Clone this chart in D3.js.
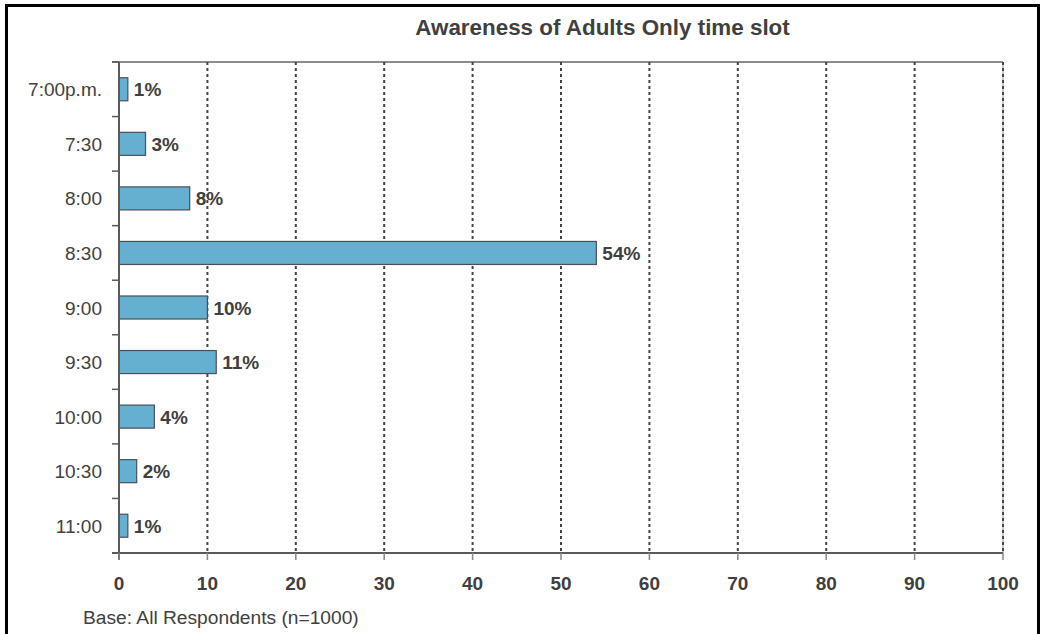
<!DOCTYPE html>
<html>
<head>
<meta charset="utf-8">
<script src="https://cdn.jsdelivr.net/npm/d3@7"></script>
<style>
  html, body { margin: 0; padding: 0; background: #fff; }
  svg { display: block; font-family: Arial, "Liberation Sans", sans-serif; }
</style>
</head>
<body>
<svg id="chart" width="1042" height="634"></svg>
<script>
const categories = ["7:00p.m.", "7:30", "8:00", "8:30", "9:00", "9:30", "10:00", "10:30", "11:00"];
const values = [1, 3, 8, 54, 10, 11, 4, 2, 1];
const xTicks = [0, 10, 20, 30, 40, 50, 60, 70, 80, 90, 100];
const chartTitle = "Awareness of Adults Only time slot";
const footnote = "Base: All Respondents (n=1000)";

(function () {
const svg = d3.select("#chart");
const pL = 119, pR = 1003, pT = 62, pB = 553;
const textColor = "#404040";
const axisColor = "#5a5a5a";

// outer frame
svg.append("rect")
  .attr("x", 6.5).attr("y", 5.5)
  .attr("width", 1032).attr("height", 700)
  .attr("fill", "none").attr("stroke", "#000").attr("stroke-width", 3);

const x = d3.scaleLinear().domain([0, 100]).range([pL, pR]);
const pad = 0.578;
const y = d3.scaleBand().domain(categories).range([pT, pB])
  .paddingInner(pad).paddingOuter(pad / 2);
const step = y.step();
const bandStart = c => y(c) - step * pad / 2;

// title
svg.append("text")
  .attr("x", 602.5).attr("y", 35)
  .attr("text-anchor", "middle")
  .attr("font-size", 22.4).attr("font-weight", "bold")
  .attr("fill", textColor)
  .text(chartTitle);

// top border line
svg.append("line")
  .attr("x1", pL - 7).attr("x2", pR).attr("y1", pT).attr("y2", pT)
  .attr("stroke", "#666").attr("stroke-width", 1.5);

// right border (solid light + dashed)
svg.append("line")
  .attr("x1", x(100)).attr("x2", x(100)).attr("y1", pT).attr("y2", pB)
  .attr("stroke", "#c8c8c8").attr("stroke-width", 2);

// grid lines
svg.append("g").selectAll("line")
  .data(xTicks.filter(d => d > 0))
  .join("line")
  .attr("x1", d => x(d)).attr("x2", d => x(d))
  .attr("y1", pT).attr("y2", pB)
  .attr("stroke", "#444").attr("stroke-width", 2)
  .attr("stroke-dasharray", "3,3");

// bars
const rows = categories.map((c, i) => ({ c, v: values[i] }));
svg.append("g").selectAll("rect")
  .data(rows)
  .join("rect")
  .attr("x", x(0))
  .attr("y", d => y(d.c))
  .attr("width", d => x(d.v) - x(0))
  .attr("height", y.bandwidth())
  .attr("fill", "#65b0d1")
  .attr("stroke", "#4a4f55").attr("stroke-width", 1.2);

// value labels
svg.append("g").selectAll("text")
  .data(rows)
  .join("text")
  .attr("x", d => x(d.v) + 6)
  .attr("y", d => y(d.c) + y.bandwidth() / 2 + 7)
  .attr("font-size", 19).attr("font-weight", "bold")
  .attr("fill", textColor)
  .text(d => d.v + "%");

// y axis line and ticks at band boundaries
svg.append("line")
  .attr("x1", pL).attr("x2", pL).attr("y1", pT).attr("y2", pB + 7)
  .attr("stroke", axisColor).attr("stroke-width", 2);
svg.append("g").selectAll("line")
  .data(categories)
  .join("line")
  .attr("x1", pL - 7).attr("x2", pL)
  .attr("y1", d => bandStart(d)).attr("y2", d => bandStart(d))
  .attr("stroke", axisColor).attr("stroke-width", 1.5);

// y labels
svg.append("g").selectAll("text")
  .data(categories)
  .join("text")
  .attr("x", 102)
  .attr("y", d => y(d) + y.bandwidth() / 2 + 7)
  .attr("text-anchor", "end")
  .attr("font-size", 19)
  .attr("fill", textColor)
  .text(d => d);

// x axis line
svg.append("line")
  .attr("x1", pL - 7).attr("x2", pR).attr("y1", pB).attr("y2", pB)
  .attr("stroke", axisColor).attr("stroke-width", 2);

// x ticks
svg.append("g").selectAll("line")
  .data(xTicks)
  .join("line")
  .attr("x1", d => x(d)).attr("x2", d => x(d))
  .attr("y1", pB).attr("y2", pB + 7)
  .attr("stroke", "#888").attr("stroke-width", 1.5);

svg.append("g").selectAll("text")
  .data(xTicks)
  .join("text")
  .attr("x", d => x(d))
  .attr("y", 589.5)
  .attr("text-anchor", "middle")
  .attr("font-size", 19).attr("font-weight", "bold")
  .attr("fill", textColor)
  .text(d => d);

// footnote
svg.append("text")
  .attr("x", 83).attr("y", 624.3)
  .attr("font-size", 19.2)
  .attr("fill", textColor)
  .text(footnote);
})();
</script>
</body>
</html>
